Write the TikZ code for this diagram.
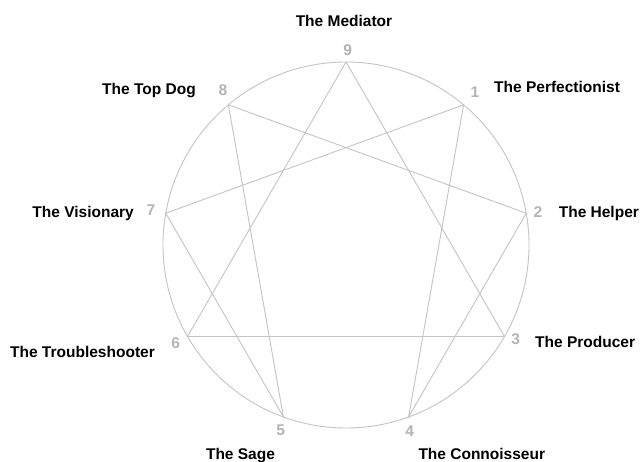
\documentclass[tikz,border=0pt]{standalone}
\usepackage{fontspec}
\setmainfont{Liberation Sans}
\usetikzlibrary{calc}
\definecolor{linegray}{HTML}{C4C4C4}
\definecolor{numgray}{HTML}{B4B4B4}
\begin{document}
\begin{tikzpicture}[x=1pt,y=1pt,
  lbl/.style={inner sep=0pt, font=\fontsize{15.5}{15.5}\selectfont\bfseries, text=black},
  num/.style={inner sep=0pt, font=\fontsize{15.5}{15.5}\selectfont\bfseries, text=numgray},
  enn/.style={draw=linegray, line width=0.9pt, line join=miter}]
\useasboundingbox[fill=white] (0,0) rectangle (642,461);
\coordinate (c) at (346,216);
\foreach \n/\a in {9/90,1/50,2/10,3/-30,4/-70,5/-110,6/-150,7/170,8/130}
  \coordinate (p\n) at ($(c)+(\a:183)$);
\draw[enn] (c) circle[radius=183];
\draw[enn] (p9) -- (p3) -- (p6) -- cycle;
\draw[enn] (p1) -- (p4) -- (p2) -- (p8) -- (p5) -- (p7) -- cycle;
% numbers
\node[num] (n9) at (347.7,411) {9};
\node[num] (n8) at (223,371) {8};
\node[num] (n1) at (475,369.3) {1};
\node[num] (n7) at (151,251) {7};
\node[num] (n2) at (538,249.3) {2};
\node[num] (n6) at (175.7,118.3) {6};
\node[num] (n3) at (515.6,122) {3};
\node[num] (n5) at (280.7,30.3) {5};
\node[num] (n4) at (409.7,30.3) {4};
% labels
\begin{scope}[yshift=-3.5pt]
\node[lbl, anchor=mid] (l9) at (344,441) {The Mediator};
\node[lbl, anchor=mid east] (l8) at (196,373) {The Top Dog};
\node[lbl, anchor=mid west] (l1) at (494,375) {The Perfectionist};
\node[lbl, anchor=mid east] (l7) at (134,249.3) {The Visionary};
\node[lbl, anchor=mid west] (l2) at (558.6,250) {The Helper};
\node[lbl, anchor=mid east] (l6) at (155,109.3) {The Troubleshooter};
\node[lbl, anchor=mid west] (l3) at (535,119.3) {The Producer};
\node[lbl, anchor=mid] (l5) at (240.5,8) {The Sage};
\node[lbl, anchor=mid west] (l4) at (418.3,8) {The Connoisseur};
\end{scope}
\end{tikzpicture}
\end{document}
